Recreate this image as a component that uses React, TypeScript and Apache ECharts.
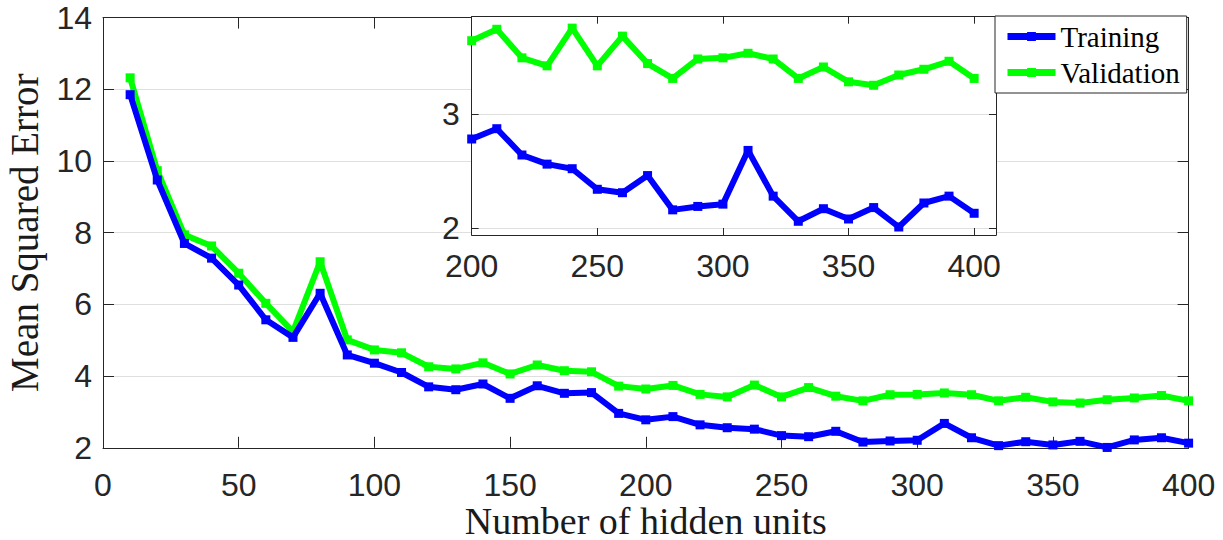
import React, { useEffect, useRef } from "react";
import * as echarts from "echarts";

// Network size sweep: number of hidden units vs. mean squared error
const hiddenUnits = [
  10, 20, 30, 40, 50, 60, 70, 80, 90, 100,
  110, 120, 130, 140, 150, 160, 170, 180, 190, 200,
  210, 220, 230, 240, 250, 260, 270, 280, 290, 300,
  310, 320, 330, 340, 350, 360, 370, 380, 390, 400,
];

const trainingMse = [
  11.85, 9.47, 7.7, 7.29, 6.54, 5.57, 5.08, 6.31, 4.59, 4.36,
  4.1, 3.7, 3.62, 3.78, 3.38, 3.73, 3.52, 3.54, 2.96, 2.78,
  2.87, 2.64, 2.56, 2.52, 2.34, 2.31, 2.46, 2.16, 2.19, 2.21,
  2.68, 2.28, 2.06, 2.17, 2.08, 2.18, 2.01, 2.22, 2.28, 2.13,
];

const validationMse = [
  12.32, 9.73, 7.94, 7.63, 6.87, 6.03, 5.24, 7.19, 5.01, 4.73,
  4.65, 4.26, 4.2, 4.37, 4.06, 4.31, 4.15, 4.12, 3.72, 3.64,
  3.74, 3.49, 3.42, 3.75, 3.42, 3.68, 3.44, 3.31, 3.48, 3.49,
  3.53, 3.48, 3.31, 3.41, 3.28, 3.25, 3.34, 3.39, 3.46, 3.31,
];

const mainXTicks = [0, 50, 100, 150, 200, 250, 300, 350, 400];
const mainYTicks = [2, 4, 6, 8, 10, 12, 14];
const insetXTicks = [200, 250, 300, 350, 400];
const insetYTicks = [2, 3];
const insetStart = 200;

const seriesNames = ["Training", "Validation"];
const seriesColors = ["#0000ff", "#00ff00"];

const AXIS_COLOR = "#262626";
const GRID_COLOR = "#dfdfdf";
const TICK_FONT = "Liberation Sans";
const SERIF = "Liberation Serif";
const LINE_WIDTH = 6;
const MARKER_SIZE = 9;

function pairs(values: number[], fromX = -Infinity) {
  const out: [number, number][] = [];
  hiddenUnits.forEach((x, i) => {
    if (x >= fromX) out.push([x, values[i]]);
  });
  return out;
}

function axisBase(extra: any) {
  return {
    type: "value",
    nameMoveOverlap: false,
    axisLine: { show: true, onZero: false, lineStyle: { color: AXIS_COLOR, width: 1 } },
    splitLine: { show: false },
    ...extra,
  };
}

export default function App() {
  const ref = useRef<HTMLDivElement>(null);

  useEffect(() => {
    if (!ref.current) return;
    const chart = echarts.init(ref.current, undefined, { renderer: "svg" });

    const mainTick = { show: true, inside: true, length: 11, lineStyle: { color: AXIS_COLOR } };
    const insetTick = { show: true, inside: true, length: 7, lineStyle: { color: AXIS_COLOR } };
    const tickLabel = { fontFamily: TICK_FONT, fontSize: 32, color: AXIS_COLOR };

    const allSeries = [trainingMse, validationMse];

    const mainSeries = allSeries.map((vals, i) => ({
      type: "line",
      name: seriesNames[i],
      xAxisIndex: 0,
      yAxisIndex: 0,
      data: pairs(vals),
      symbol: "rect",
      symbolSize: MARKER_SIZE,
      showSymbol: true,
      lineStyle: { width: LINE_WIDTH, color: seriesColors[i] },
      itemStyle: { color: seriesColors[i] },
      z: 2 + (1 - i),
    }));

    const insetSeries = allSeries.map((vals, i) => ({
      type: "line",
      name: seriesNames[i],
      xAxisIndex: 2,
      yAxisIndex: 2,
      data: pairs(vals, insetStart),
      symbol: "rect",
      symbolSize: MARKER_SIZE,
      showSymbol: true,
      lineStyle: { width: LINE_WIDTH, color: seriesColors[i] },
      itemStyle: { color: seriesColors[i] },
      z: 6,
    }));

    chart.setOption({
      animation: false,
      backgroundColor: "#ffffff",
      grid: [
        {
          left: 103,
          top: 17.6,
          right: 34.4,
          bottom: 92.2,
          containLabel: false,
          outerBoundsMode: "none",
          z: 0,
        },
        {
          left: 471.7,
          top: 16.7,
          right: 227,
          bottom: 305,
          containLabel: false,
          outerBoundsMode: "none",
          show: true,
          backgroundColor: "#ffffff",
          borderWidth: 0,
          z: 4,
        },
      ],
      legend: {
        data: seriesNames,
        orient: "vertical",
        left: 995,
        top: 16,
        padding: [6, 7, 6, 9],
        itemGap: 7,
        itemWidth: 48,
        itemHeight: 11,
        backgroundColor: "#ffffff",
        borderColor: AXIS_COLOR,
        borderWidth: 1,
        borderRadius: 0,
        selectedMode: false,
        lineStyle: { width: 7 },
        textStyle: { fontFamily: SERIF, fontSize: 29, color: "#000000" },
        z: 10,
      },
      xAxis: [
        axisBase({
          gridIndex: 0,
          position: "bottom",
          min: 0,
          max: 400,
          interval: 50,
          axisTick: mainTick,
          axisLabel: { ...tickLabel, margin: 21, customValues: mainXTicks },
          name: "Number of hidden units",
          nameLocation: "middle",
          nameGap: 54,
          nameTextStyle: { fontFamily: SERIF, fontSize: 38, color: "#1a1a1a" },
        }),
        axisBase({
          gridIndex: 0,
          position: "top",
          min: 0,
          max: 400,
          interval: 50,
          axisTick: mainTick,
          axisLabel: { show: false },
        }),
        axisBase({
          gridIndex: 1,
          position: "bottom",
          min: 200,
          max: 408.7,
          axisTick: { ...insetTick, customValues: insetXTicks },
          axisLabel: { ...tickLabel, margin: 15, customValues: insetXTicks },
          z: 5,
        }),
        axisBase({
          gridIndex: 1,
          position: "top",
          min: 200,
          max: 408.7,
          axisTick: { ...insetTick, customValues: insetXTicks },
          axisLabel: { show: false },
          z: 5,
        }),
      ],
      yAxis: [
        axisBase({
          gridIndex: 0,
          position: "left",
          min: 2,
          max: 14,
          interval: 2,
          axisTick: mainTick,
          axisLabel: { ...tickLabel, margin: 11, customValues: mainYTicks },
          splitLine: { show: true, lineStyle: { color: GRID_COLOR, width: 1 } },
          name: "Mean Squared Error",
          nameLocation: "middle",
          nameRotate: 90,
          nameGap: 59,
          nameTextStyle: { fontFamily: SERIF, fontSize: 39, color: "#1a1a1a" },
        }),
        axisBase({
          gridIndex: 0,
          position: "right",
          min: 2,
          max: 14,
          interval: 2,
          axisTick: mainTick,
          axisLabel: { show: false },
        }),
        axisBase({
          gridIndex: 1,
          position: "left",
          min: 1.94,
          max: 3.85,
          axisTick: { ...insetTick, customValues: insetYTicks },
          axisLabel: { ...tickLabel, margin: 12, customValues: insetYTicks },
          splitLine: { show: true, lineStyle: { color: GRID_COLOR, width: 1 } },
          z: 5,
        }),
        axisBase({
          gridIndex: 1,
          position: "right",
          min: 1.94,
          max: 3.85,
          axisTick: { ...insetTick, customValues: insetYTicks },
          axisLabel: { show: false },
          z: 5,
        }),
      ],
      series: [...mainSeries, ...insetSeries],
    });

    return () => chart.dispose();
  }, []);

  return (
    <div
      ref={ref}
      style={{ position: "absolute", left: 0, top: 0, width: 1223, height: 540 }}
    />
  );
}
